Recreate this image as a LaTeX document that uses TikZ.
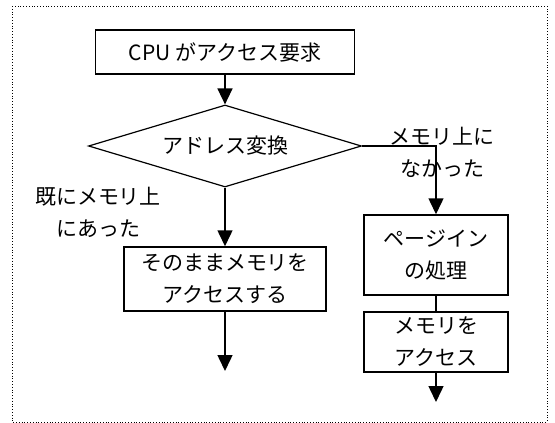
\documentclass[tikz,border=0pt]{standalone}
\usepackage{fontspec}
\setmainfont{Noto Sans CJK JP}
\usetikzlibrary{positioning, arrows.meta, shapes}

\begin{document}
\begin{tikzpicture}[
	every box/.style={rectangle, draw, line width=1.5pt, inner sep=0pt, align=center},
	decision/.style={diamond, draw, line width=1.2pt, inner sep=0pt, aspect=3.3, minimum width=273pt, minimum height=82pt},
	branch label/.style={align=center},
	flow/.style={line width=1.5pt},
	x=1pt,
	y=-1pt,
	>={Triangle[width=15pt, length=16pt]},
	font=\fontsize{21}{32}\selectfont
]

\useasboundingbox (0, 0) rectangle (555, 423);
\draw [dotted, line width=0.8pt] (12, 6) rectangle (547, 422);

\node [every box, minimum width=259pt, minimum height=44pt] (request) at (225, 52) {CPU がアクセス要求};
\node [decision] (translate) at (225, 146) {アドレス変換};
\node [every box, minimum width=202pt, minimum height=64pt] (direct) at (225, 279) {そのままメモリを\\アクセスする};
\node [every box, minimum width=144pt, minimum height=80pt] (pagein) at (436, 255) {ページイン\\の処理};
\node [every box, minimum width=144pt, minimum height=60pt] (access) at (436, 342) {メモリを\\アクセス};

\node [branch label] (hit-text) at (98, 212) {既にメモリ上\\にあった};
\node [branch label] (miss-text) at (442, 152) {メモリ上に\\なかった};

\coordinate (direct-end) at (225, 371);
\coordinate (access-end) at (436, 402);

\draw [flow, ->] (request) -- (translate);
\draw [flow, ->] (translate) -- (direct);
\draw [flow, ->] (translate.east) -| (pagein.north);
\draw [flow] (pagein) -- (access);
\draw [flow, ->] (direct) -- (direct-end);
\draw [flow, ->] (access) -- (access-end);

\end{tikzpicture}
\end{document}
